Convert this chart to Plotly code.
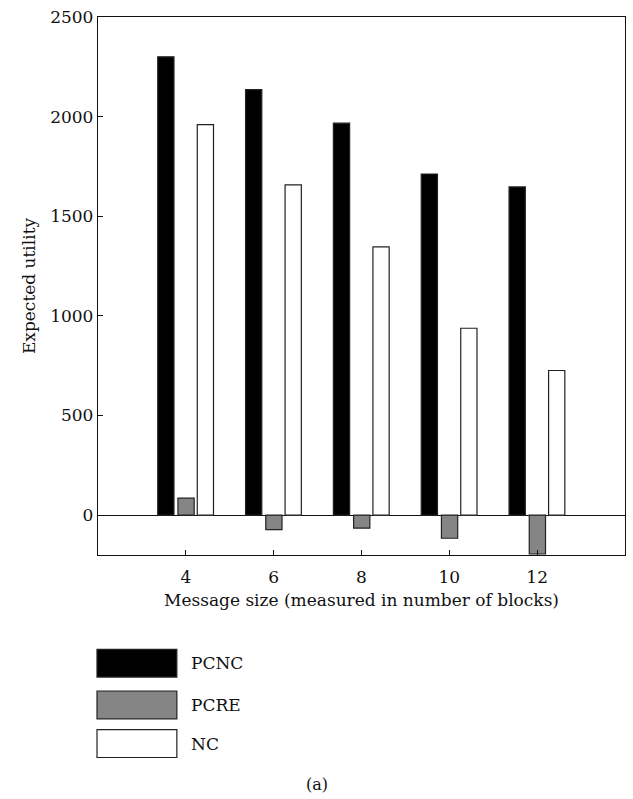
import plotly.graph_objects as go

message_sizes = [4, 6, 8, 10, 12]
pcnc = [2300, 2136, 1967, 1712, 1647]
pcre = [85, -73, -65, -116, -195]
nc = [1960, 1658, 1346, 938, 726]
series_names = ["PCNC", "PCRE", "NC"]
series_colors = ["#000000", "#858585", "#ffffff"]
y_ticks = [0, 500, 1000, 1500, 2000, 2500]

FONT = "DejaVu Serif, Liberation Serif, serif"
FS = 17
W = 0.37
offsets = [-0.64, -0.18, 0.26]

WIDTH, HEIGHT = 633, 799
ML, MR, MT, MB = 98, 7, 13, 244

fig = go.Figure()
for name, vals, col, off in zip(series_names, [pcnc, pcre, nc], series_colors, offsets):
    fig.add_trace(go.Bar(
        x=message_sizes, y=vals, name=name, width=W, offset=off,
        marker=dict(color=col, line=dict(color="#222222", width=1.2)),
        showlegend=False,
    ))

fig.update_layout(
    width=WIDTH, height=HEIGHT,
    margin=dict(l=ML, r=MR, t=MT, b=MB, pad=0),
    paper_bgcolor="white", plot_bgcolor="white",
    barmode="overlay",
    font=dict(family=FONT, size=FS, color="#111111"),
    xaxis=dict(
        range=[2, 14], tickvals=message_sizes, ticks="inside", ticklen=5,
        tickcolor="#111111", showgrid=False, zeroline=False,
        showline=True, linecolor="#111111", linewidth=1.3, mirror=True,
        ticklabelstandoff=6,
        title=dict(text="Message size (measured in number of blocks)", standoff=8,
                   font=dict(size=FS)),
        tickfont=dict(size=FS),
    ),
    yaxis=dict(
        range=[-200, 2500], tickvals=y_ticks, ticks="inside", ticklen=5,
        tickcolor="#111111", showgrid=False,
        zeroline=True, zerolinecolor="#111111", zerolinewidth=1.3,
        showline=True, linecolor="#111111", linewidth=1.3, mirror=True,
        title=dict(text="Expected utility", standoff=10, font=dict(size=FS)),
        tickfont=dict(size=FS),
    ),
)

plot_h = HEIGHT - MT - MB
plot_w = WIDTH - ML - MR


def px_to_paper_x(px):
    return (px - ML) / plot_w


def px_to_paper_y(py):
    return (HEIGHT - MB - py) / plot_h


# Custom legend below the plot
leg_top = [650, 692, 731]
for name, col, y in zip(series_names, series_colors, leg_top):
    fig.add_shape(type="rect", xref="paper", yref="paper",
                  x0=px_to_paper_x(97), x1=px_to_paper_x(177),
                  y0=px_to_paper_y(y + 28), y1=px_to_paper_y(y),
                  fillcolor=col, line=dict(color="#222222", width=1.2))
    fig.add_annotation(xref="paper", yref="paper",
                       x=px_to_paper_x(189), y=px_to_paper_y(y + 14),
                       text=name, showarrow=False, xanchor="left", yanchor="middle",
                       font=dict(family=FONT, size=FS, color="#111111"))

fig.add_annotation(xref="paper", yref="paper",
                   x=px_to_paper_x(317), y=px_to_paper_y(786),
                   text="(a)", showarrow=False, xanchor="center", yanchor="middle",
                   font=dict(family=FONT, size=FS - 1, color="#111111"))

fig.write_html("out.html",
               config={"displayModeBar": False},
               post_script="document.body.style.margin='0px';document.body.style.overflow='hidden';")
